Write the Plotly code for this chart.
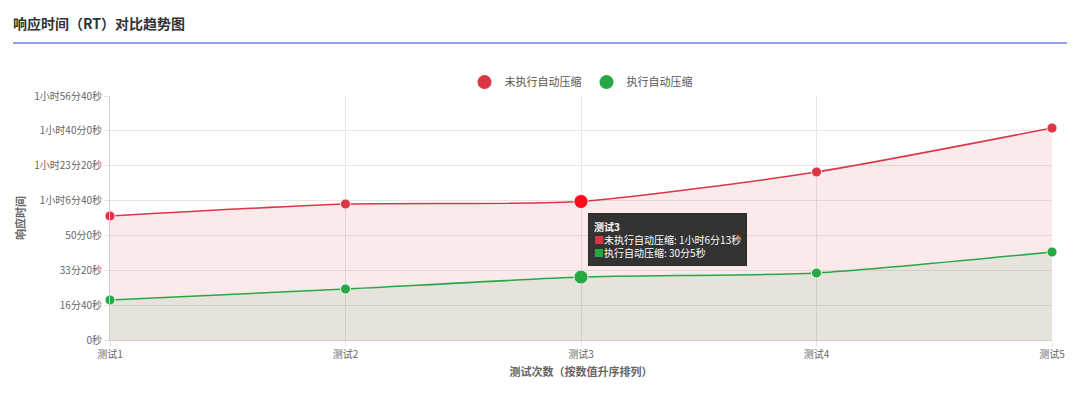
import plotly.graph_objects as go

# data (seconds)
tests = ["测试1", "测试2", "测试3", "测试4", "测试5"]
rt_no_compress = [3557, 3901, 3973, 4819, 6081]
rt_compress = [1147, 1463, 1805, 1922, 2524]

tick_vals = [0, 1000, 2000, 3000, 4000, 5000, 6000, 7000]
tick_text = ["0秒", "16分40秒", "33分20秒", "50分0秒", "1小时6分40秒",
             "1小时23分20秒", "1小时40分0秒", "1小时56分40秒"]

hover_idx = 2  # the point the tooltip is shown for

RED = "#dc3545"
GREEN = "#28a745"
FONT = "Noto Sans CJK SC"


def fmt(sec):
  h, rest = divmod(int(sec), 3600)
  m, s = divmod(rest, 60)
  out = ""
  if h:
    out += str(h) + "小时"
  if h or m:
    out += str(m) + "分"
  return out + str(s) + "秒"


fig = go.Figure()

# marker sizes: hovered point bigger
def sizes(n):
  return [14 if i == hover_idx else 10 for i in range(n)]

fig.add_trace(go.Scatter(x=tests, y=rt_no_compress, name="未执行自动压缩",
                         mode="lines+markers", fill="tozeroy",
                         fillcolor="rgba(220,53,69,0.1)",
                         line=dict(color=RED, width=1.5, shape="spline", smoothing=0.6),
                         marker=dict(size=sizes(len(tests)), opacity=1,
                                     color=[("#ff0a1a" if i == hover_idx else RED) for i in range(len(tests))],
                                     line=dict(color="white", width=0.8)),
                         cliponaxis=False, showlegend=False, hoverinfo="skip"))

fig.add_trace(go.Scatter(x=tests, y=rt_compress, name="执行自动压缩",
                         mode="lines+markers", fill="tozeroy",
                         fillcolor="rgba(40,167,69,0.1)",
                         line=dict(color=GREEN, width=1.5, shape="spline", smoothing=0.6),
                         marker=dict(size=sizes(len(tests)), color=GREEN, opacity=1,
                                     line=dict(color="white", width=0.8)),
                         cliponaxis=False, showlegend=False, hoverinfo="skip"))

# legend entries with round markers only
for name, col in [("未执行自动压缩", RED), ("执行自动压缩", GREEN)]:
  fig.add_trace(go.Scatter(x=[None], y=[None], name=name, mode="markers",
                           marker=dict(size=14, color=col)))

# static tooltip like in the screenshot
tip = ("<b>" + tests[hover_idx] + "</b><br>"
       + "<span style='color:" + RED + "'>■</span>未执行自动压缩: " + fmt(rt_no_compress[hover_idx]) + "<br>"
       + "<span style='color:" + GREEN + "'>■</span>执行自动压缩: " + fmt(rt_compress[hover_idx]))

fig.add_annotation(x=tests[hover_idx], y=(rt_no_compress[hover_idx] + rt_compress[hover_idx]) / 2 - 20,
                   xref="x", yref="y", text=tip, showarrow=False, align="left",
                   xanchor="left", yanchor="middle", xshift=7,
                   bgcolor="rgba(35,35,35,0.92)", bordercolor="rgba(35,35,35,0.92)",
                   borderpad=5, font=dict(color="white", size=10, family=FONT))

fig.update_layout(
  width=1080, height=403,
  margin=dict(l=110, r=28, t=96, b=63),
  paper_bgcolor="white", plot_bgcolor="white",
  font=dict(family=FONT, color="#666", size=10),
  title=dict(text="<b>响应时间（RT）对比趋势图</b>", xref="container", yref="container",
             x=0.012, y=0.94, xanchor="left", yanchor="middle",
             font=dict(size=14, color="#333", family=FONT)),
  legend=dict(orientation="h", x=0.5, xanchor="center", y=1.057, yanchor="middle",
              font=dict(size=11, color="#555"), itemwidth=30, tracegroupgap=0),
  shapes=[dict(type="line", xref="paper", yref="paper", x0=-0.103, x1=1.016,
               y0=1.217, y1=1.217, line=dict(color="#7080e8", width=1.5))],
  xaxis=dict(type="category", range=[0, len(tests) - 1], showgrid=True,
             gridcolor="#e6e6e6", showline=True, linecolor="#cfcfcf",
             ticks="outside", ticklen=5, tickcolor="#e6e6e6",
             title=dict(text="<b>测试次数（按数值升序排列）</b>", font=dict(size=11, color="#666"), standoff=8),
             tickfont=dict(size=10, color="#666")),
  yaxis=dict(range=[0, 7000], tickvals=tick_vals, ticktext=tick_text,
             showgrid=True, gridcolor="#e6e6e6", showline=True, linecolor="#cfcfcf",
             ticks="outside", ticklen=5, tickcolor="#e6e6e6", zeroline=False,
             title=dict(text="<b>响应时间</b>", font=dict(size=11, color="#666"), standoff=6),
             tickfont=dict(size=10, color="#666")),
)

# page body has a default margin, remove it so the chart sits at 0,0
fig.write_html("out.html", config={"displayModeBar": False},
               post_script="document.body.style.margin='0';document.body.style.overflow='hidden';")
